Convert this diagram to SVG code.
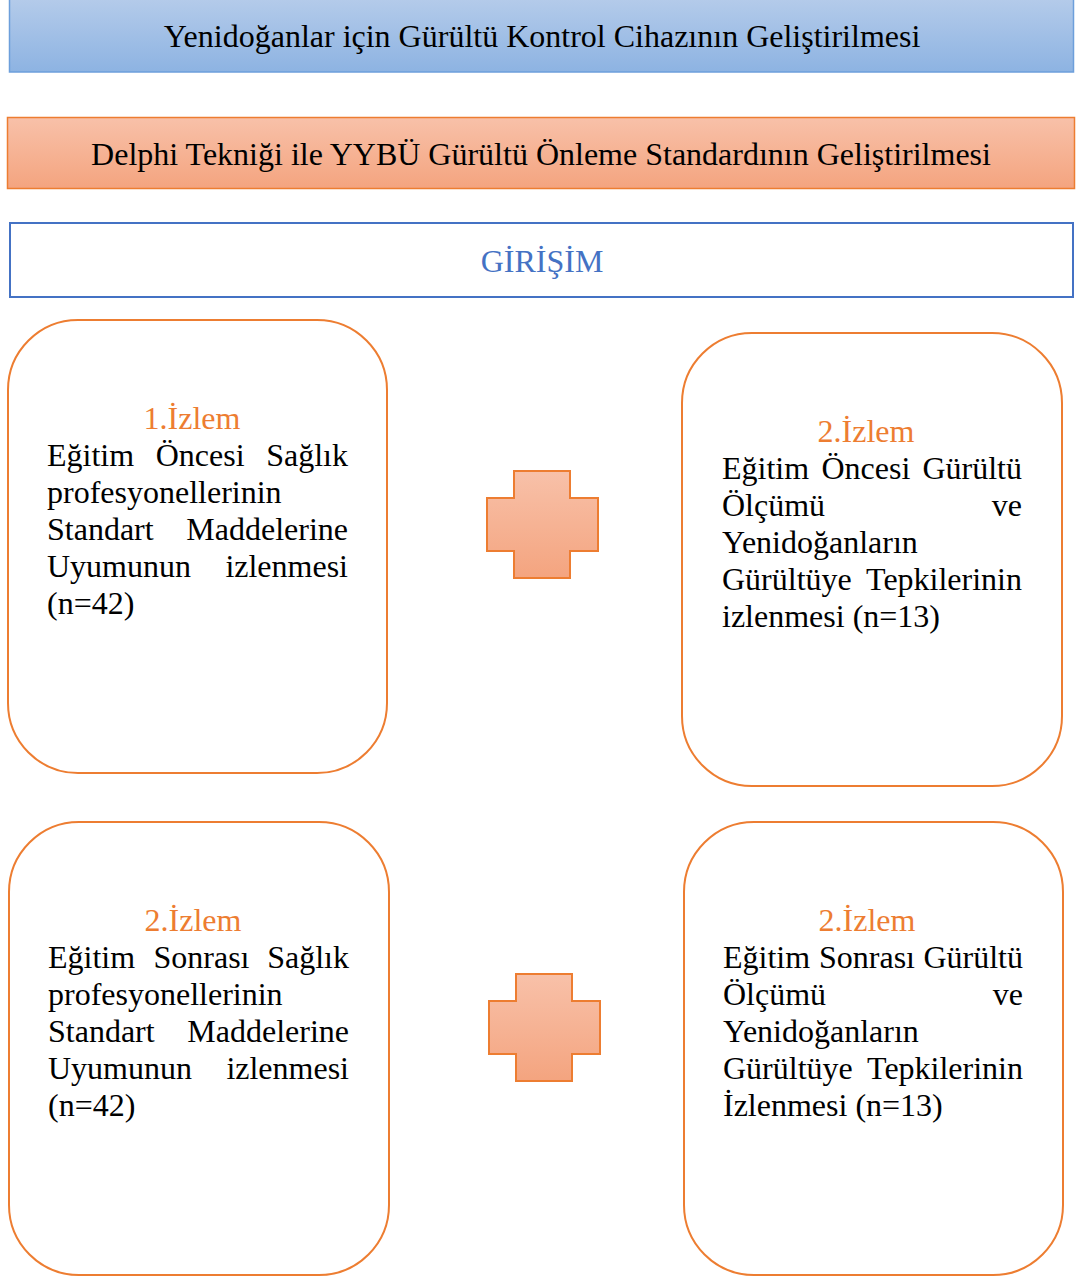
<svg xmlns="http://www.w3.org/2000/svg" width="1078" height="1277" viewBox="0 0 1078 1277">
<defs>
<linearGradient id="gBlue" x1="0" y1="0" x2="0" y2="1">
<stop offset="0" stop-color="#b4cbea"/>
<stop offset="1" stop-color="#8db3e2"/>
</linearGradient>
<linearGradient id="gOrange" x1="0" y1="0" x2="0" y2="1">
<stop offset="0" stop-color="#f8c1a9"/>
<stop offset="1" stop-color="#f4a47f"/>
</linearGradient>
<path id="plus" d="M27,0 H83 V27 H111 V80 H83 V107 H27 V80 H0 V27 H27 Z"/>
</defs>
<style>
text{font-family:"Liberation Serif","Times New Roman",serif;font-size:32px;fill:#000}
.hd{fill:#ed7d31;text-anchor:middle}
.c{text-anchor:middle}
.e{text-anchor:end}
.rb{fill:#fff;stroke:#ed7d31;stroke-width:2}
.pl{fill:url(#gOrange);stroke:#ed7d31;stroke-width:2}
</style>
<rect width="1078" height="1277" fill="#fff"/>

<g id="title">
<rect x="9.5" y="-1" width="1064" height="73" fill="url(#gBlue)" stroke="#6d9fdb" stroke-width="1.5"/>
<text x="542" y="47" class="c">Yenidoğanlar için Gürültü Kontrol Cihazının Geliştirilmesi</text>
</g>

<g id="delphi">
<rect x="7.5" y="117.5" width="1067" height="71" fill="url(#gOrange)" stroke="#ed7d31" stroke-width="1.5"/>
<text x="541" y="165" class="c">Delphi Tekniği ile YYBÜ Gürültü Önleme Standardının Geliştirilmesi</text>
</g>

<g id="girisim">
<rect x="10" y="223" width="1063" height="74" fill="#fff" stroke="#4472c4" stroke-width="2"/>
<text x="542" y="272" class="c" style="fill:#4472c4">GİRİŞİM</text>
</g>

<g id="izlem1-pre">
<rect class="rb" x="8" y="320" width="379" height="453" rx="70" ry="70"/>
<text x="192" y="429" class="hd">1.İzlem</text>
<text x="47" y="466">Eğitim</text><text x="155.7" y="466">Öncesi</text><text x="348" y="466" class="e">Sağlık</text>
<text x="47" y="503">profesyonellerinin</text>
<text x="47" y="540">Standart</text><text x="348" y="540" class="e">Maddelerine</text>
<text x="47" y="577">Uyumunun</text><text x="348" y="577" class="e">izlenmesi</text>
<text x="47" y="614">(n=42)</text>
</g>

<g id="izlem2-pre">
<rect class="rb" x="682" y="333" width="380" height="453" rx="70" ry="70"/>
<text x="866" y="442" class="hd">2.İzlem</text>
<text x="722" y="479">Eğitim</text><text x="821.5" y="479">Öncesi</text><text x="1022" y="479" class="e">Gürültü</text>
<text x="722" y="516">Ölçümü</text><text x="1022" y="516" class="e">ve</text>
<text x="722" y="553">Yenidoğanların</text>
<text x="722" y="590">Gürültüye</text><text x="1022" y="590" class="e">Tepkilerinin</text>
<text x="722" y="627">izlenmesi (n=13)</text>
</g>

<g id="plus-top">
<use href="#plus" class="pl" transform="translate(487,471)"/>
</g>

<g id="izlem2-post-staff">
<rect class="rb" x="9" y="822" width="380" height="453" rx="70" ry="70"/>
<text x="193" y="931" class="hd">2.İzlem</text>
<text x="48" y="968">Eğitim</text><text x="153.5" y="968">Sonrası</text><text x="349" y="968" class="e">Sağlık</text>
<text x="48" y="1005">profesyonellerinin</text>
<text x="48" y="1042">Standart</text><text x="349" y="1042" class="e">Maddelerine</text>
<text x="48" y="1079">Uyumunun</text><text x="349" y="1079" class="e">izlenmesi</text>
<text x="48" y="1116">(n=42)</text>
</g>

<g id="plus-bottom">
<use href="#plus" class="pl" transform="translate(489,974)"/>
</g>

<g id="izlem2-post-noise">
<rect class="rb" x="684" y="822" width="379" height="453" rx="70" ry="70"/>
<text x="867" y="931" class="hd">2.İzlem</text>
<text x="723" y="968">Eğitim</text><text x="819" y="968">Sonrası</text><text x="1023" y="968" class="e">Gürültü</text>
<text x="723" y="1005">Ölçümü</text><text x="1023" y="1005" class="e">ve</text>
<text x="723" y="1042">Yenidoğanların</text>
<text x="723" y="1079">Gürültüye</text><text x="1023" y="1079" class="e">Tepkilerinin</text>
<text x="723" y="1116">İzlenmesi (n=13)</text>
</g>

<g id="connectors"></g>
</svg>
